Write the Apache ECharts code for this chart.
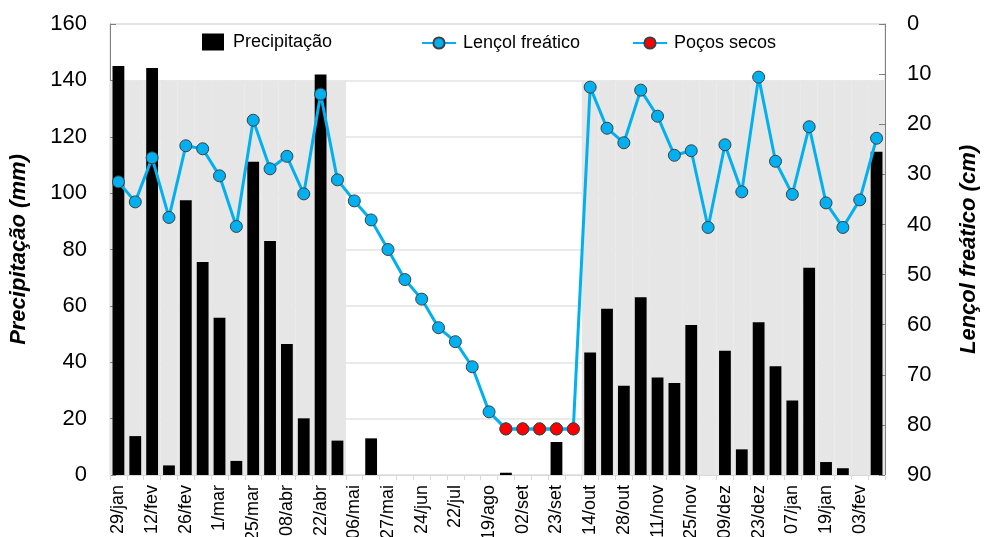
<!DOCTYPE html>
<html>
<head>
<meta charset="utf-8">
<script src="https://cdn.jsdelivr.net/npm/echarts@6/dist/echarts.min.js"></script>
<style>
  html, body { margin: 0; padding: 0; background: #fff; }
  #chart { width: 984px; height: 537px; }
</style>
</head>
<body>
<div id="chart"></div>
<script>
// Sampling dates (every other one is labelled on the axis)
const categories = [
  '29/jan', '', '12/fev', '', '26/fev', '', '1/mar', '', '25/mar', '', '08/abr', '',
  '22/abr', '', '06/mai', '', '27/mai', '', '24/jun', '', '22/jul', '', '19/ago', '',
  '02/set', '', '23/set', '', '14/out', '', '28/out', '', '11/nov', '', '25/nov', '',
  '09/dez', '', '23/dez', '', '07/jan', '', '19/jan', '', '03/fev', ''
];

// Rainfall per interval (mm)
const precipitation = [
  145.1, 13.8, 144.4, 3.4, 97.5, 75.6, 55.8, 5.0, 111.1, 83.0, 46.5, 20.1, 142.1, 12.2,
  0, 13.0, 0, 0, 0, 0, 0, 0, 0, 0.8, 0, 0, 11.7, 0,
  43.5, 59.0, 31.7, 63.1, 34.6, 32.6, 53.2, 0, 44.1, 9.1, 54.2, 38.6, 26.4, 73.5, 4.6, 2.4, 0, 114.7
];

// Water-table depth (cm below surface)
const waterTable = [
  31.5, 35.5, 26.7, 38.6, 24.3, 24.9, 30.3, 40.4, 19.2, 28.9, 26.4, 33.9, 14.0, 31.1,
  35.3, 39.1, 45.0, 51.0, 54.9, 60.6, 63.4, 68.4, 77.4, 80.8, 80.8, 80.8, 80.8, 80.8,
  12.6, 20.8, 23.7, 13.2, 18.4, 26.2, 25.3, 40.6, 24.1, 33.5, 10.6, 27.4, 34.0, 20.5, 35.7, 40.6, 35.1, 22.8
];

// Readings where the wells were dry (bottom of the well)
const dryWells = [
  null, null, null, null, null, null, null, null, null, null, null, null, null, null,
  null, null, null, null, null, null, null, null, null, 80.8, 80.8, 80.8, 80.8, 80.8,
  null, null, null, null, null, null, null, null, null, null, null, null, null, null, null, null, null, null
];

// Rainy-season bands, as inclusive category index ranges, shaded up to 140 mm
const rainySeasons = [[0, 13], [28, 45]];
const seasonTop = 140;

const seasonBand = categories.map((_, i) =>
  rainySeasons.some(([a, b]) => i >= a && i <= b) ? seasonTop : '-'
);

const FONT = '"Liberation Sans", Arial, sans-serif';
const BLUE = '#00b0f0';
const legendText = { fontFamily: FONT, fontSize: 18, color: '#000' };

const chart = echarts.init(document.getElementById('chart'), null, { renderer: 'canvas' });

chart.setOption({
  animation: false,
  backgroundColor: '#fff',
  textStyle: { fontFamily: FONT },
  grid: {
    left: 110, right: 99, top: 24, bottom: 62,
    outerBoundsMode: 'none',
    containLabel: false,
    show: true, borderColor: '#d9d9d9', borderWidth: 1, backgroundColor: 'transparent'
  },
  legend: [
    {
      left: 202, top: 33, padding: 0, itemWidth: 22, itemHeight: 17,
      data: [{ name: 'Precipitação', icon: 'rect', itemStyle: { borderWidth: 0 } }],
      textStyle: Object.assign({ padding: [0, 0, 0, 4] }, legendText)
    },
    {
      left: 421, top: 34, padding: 0, itemWidth: 34, itemHeight: 14,
      data: ['Lençol freático'],
      textStyle: Object.assign({ padding: [0, 0, 0, 2] }, legendText)
    },
    {
      left: 632, top: 34, padding: 0, itemWidth: 34, itemHeight: 14,
      data: ['Poços secos'],
      textStyle: Object.assign({ padding: [0, 0, 0, 2] }, legendText)
    }
  ],
  xAxis: [
    {
      type: 'category',
      data: categories,
      boundaryGap: true,
      axisLine: { show: true, lineStyle: { color: '#d9d9d9', width: 1 } },
      axisTick: { show: true, interval: 0, length: 5, lineStyle: { color: '#d9d9d9' } },
      axisLabel: {
        interval: 0, rotate: 90, margin: 10,
        fontFamily: FONT, fontSize: 18, color: '#000'
      },
      splitLine: { show: false }
    },
    {
      type: 'category',
      data: categories,
      boundaryGap: true,
      show: false
    }
  ],
  yAxis: [
    {
      type: 'value',
      min: 0, max: 160, interval: 20,
      position: 'left',
      name: 'Precipitação (mm)',
      nameLocation: 'middle',
      nameGap: 80,
      nameTextStyle: { fontFamily: FONT, fontSize: 22, fontWeight: 'bold', fontStyle: 'italic', color: '#000' },
      axisLine: { show: true, lineStyle: { color: '#808080', width: 1 } },
      axisTick: { show: true, inside: true, length: 6, lineStyle: { color: '#808080' } },
      axisLabel: { margin: 23, fontFamily: FONT, fontSize: 22, color: '#000' },
      splitLine: { show: true, lineStyle: { color: '#e3e3e3', width: 1.5 } }
    },
    {
      type: 'value',
      min: 0, max: 90, interval: 10,
      inverse: true,
      position: 'right',
      name: 'Lençol freático (cm)',
      nameLocation: 'middle',
      nameGap: 73,
      nameRotate: 90,
      nameTextStyle: { fontFamily: FONT, fontSize: 22, fontWeight: 'bold', fontStyle: 'italic', color: '#000' },
      axisLine: { show: true, lineStyle: { color: '#808080', width: 1 } },
      axisTick: { show: true, inside: true, length: 6, lineStyle: { color: '#808080' } },
      axisLabel: { margin: 22, fontFamily: FONT, fontSize: 22, color: '#000' },
      splitLine: { show: false }
    }
  ],
  series: [
    {
      name: 'season',
      type: 'bar',
      xAxisIndex: 1,
      yAxisIndex: 0,
      data: seasonBand,
      barWidth: '100%',
      itemStyle: { color: '#e6e6e6' },
      silent: true,
      z: 0
    },
    {
      name: 'Precipitação',
      type: 'bar',
      xAxisIndex: 0,
      yAxisIndex: 0,
      data: precipitation,
      barWidth: '70%',
      itemStyle: { color: '#000' },
      z: 2
    },
    {
      name: 'Lençol freático',
      type: 'line',
      xAxisIndex: 0,
      yAxisIndex: 1,
      data: waterTable,
      symbol: 'circle',
      symbolSize: 12,
      lineStyle: { color: BLUE, width: 3 },
      itemStyle: { color: BLUE, borderColor: '#404040', borderWidth: 1 },
      z: 3
    },
    {
      name: 'Poços secos',
      type: 'line',
      xAxisIndex: 0,
      yAxisIndex: 1,
      data: dryWells,
      symbol: 'circle',
      symbolSize: 12,
      lineStyle: { color: BLUE, width: 3 },
      itemStyle: { color: '#ff0000', borderColor: '#404040', borderWidth: 1 },
      z: 4
    }
  ]
});
</script>
</body>
</html>
